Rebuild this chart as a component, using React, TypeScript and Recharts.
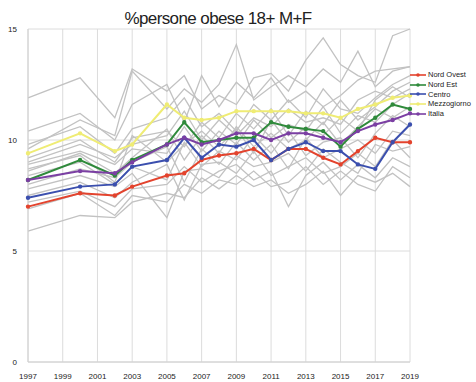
import { CartesianGrid, Legend, Line, LineChart, XAxis, YAxis } from "recharts"

const years = [1997, 2000, 2002, 2003, 2005, 2006, 2007, 2008, 2009, 2010, 2011, 2012, 2013, 2014, 2015, 2016, 2017, 2018, 2019]
const yearTicks = [1997, 1999, 2001, 2003, 2005, 2007, 2009, 2011, 2013, 2015, 2017, 2019]
const valueTicks = [0, 5, 10, 15]

const nordOvest = [7.0, 7.6, 7.5, 7.9, 8.4, 8.5, 9.1, 9.3, 9.4, 9.6, 9.1, 9.6, 9.6, 9.2, 8.9, 9.5, 10.1, 9.9, 9.9]
const nordEst = [8.2, 9.1, 8.4, 9.1, 9.8, 10.8, 9.9, 10.0, 10.1, 10.1, 10.8, 10.6, 10.5, 10.4, 9.7, 10.5, 11.0, 11.6, 11.4]
const centro = [7.4, 7.9, 8.0, 8.8, 9.1, 10.1, 9.2, 9.8, 9.7, 10.0, 9.1, 9.6, 9.9, 9.5, 9.5, 8.9, 8.7, 9.9, 10.7]
const mezzogiorno = [9.4, 10.3, 9.5, 9.8, 11.6, 11.0, 10.9, 11.0, 11.3, 11.3, 11.3, 11.3, 11.2, 11.2, 11.0, 11.4, 11.6, 11.9, 12.0]
const italia = [8.2, 8.6, 8.5, 9.0, 9.8, 10.1, 9.8, 10.0, 10.3, 10.3, 10.0, 10.3, 10.3, 10.1, 9.9, 10.4, 10.7, 10.9, 11.2]

// regioni (linee grigie)
const regioni = [
  [11.9, 12.8, 11.0, 13.2, 12.2, 12.9, 11.4, 12.0, 11.6, 12.8, 13.0, 12.2, 13.6, 14.6, 13.4, 12.9, 12.6, 14.7, 15.0],
  [9.6, 10.9, 10.2, 13.1, 11.4, 12.3, 11.7, 12.5, 14.3, 11.8, 12.4, 12.9, 12.4, 13.2, 12.6, 14.0, 12.4, 13.1, 13.3],
  [10.4, 11.2, 10.0, 11.6, 12.5, 10.8, 12.9, 11.5, 12.6, 11.9, 12.8, 11.7, 12.2, 11.5, 12.0, 12.7, 13.1, 13.2, 13.3],
  [9.8, 10.6, 9.4, 10.5, 11.0, 11.9, 10.6, 11.2, 10.4, 11.6, 10.9, 11.8, 11.0, 12.3, 11.4, 11.2, 11.9, 12.5, 12.9],
  [9.2, 10.0, 9.0, 10.1, 10.4, 9.7, 10.8, 10.1, 11.2, 10.5, 11.4, 10.2, 11.3, 10.7, 11.8, 10.9, 11.5, 12.2, 12.6],
  [8.9, 9.5, 8.9, 9.6, 9.4, 10.6, 9.5, 10.4, 9.8, 10.9, 10.1, 10.7, 10.4, 11.5, 10.3, 11.1, 10.8, 11.6, 12.1],
  [8.6, 9.4, 8.5, 9.2, 10.5, 9.1, 10.2, 9.4, 10.6, 9.7, 10.3, 9.6, 10.0, 10.8, 9.8, 10.6, 11.4, 11.0, 11.5],
  [8.4, 9.0, 8.0, 8.8, 8.2, 9.9, 8.8, 9.5, 9.1, 10.2, 9.4, 10.4, 9.3, 9.9, 10.1, 9.2, 10.3, 11.1, 10.6],
  [8.0, 8.7, 8.3, 9.0, 9.7, 8.1, 9.6, 8.9, 9.9, 9.1, 9.8, 8.7, 10.1, 9.2, 9.6, 10.0, 9.4, 10.4, 10.2],
  [7.8, 8.4, 7.9, 8.5, 6.5, 8.6, 8.7, 8.3, 9.3, 8.8, 9.0, 9.4, 8.6, 9.6, 9.0, 8.5, 9.8, 9.5, 9.7],
  [7.5, 8.1, 7.4, 8.1, 8.9, 7.3, 8.9, 9.0, 8.5, 9.5, 8.4, 8.8, 9.2, 8.5, 8.8, 9.4, 8.8, 10.0, 9.2],
  [7.2, 7.7, 7.0, 7.8, 8.0, 8.8, 8.1, 8.6, 8.9, 8.2, 8.6, 7.0, 8.4, 9.0, 8.2, 8.9, 8.3, 9.2, 8.8],
  [6.9, 7.6, 6.6, 7.5, 7.2, 8.0, 7.6, 8.2, 8.0, 8.6, 7.9, 8.1, 8.8, 8.0, 8.6, 8.0, 7.7, 8.8, 8.3],
  [5.9, 6.6, 6.5, 7.2, 7.6, 7.4, 8.3, 7.8, 8.4, 7.9, 8.2, 7.6, 8.0, 8.6, 7.5, 8.4, 8.1, 8.5, 7.9],
  [8.7, 9.3, 8.1, 10.2, 9.0, 9.8, 10.4, 9.7, 10.5, 9.4, 10.9, 9.9, 10.6, 10.2, 11.0, 10.4, 11.8, 12.4, 11.9],
  [9.0, 9.8, 9.2, 9.8, 10.2, 11.3, 10.0, 10.9, 10.2, 11.0, 10.6, 11.4, 10.8, 11.0, 10.7, 11.8, 12.2, 11.9, 12.3],
]

const series = [
  { key: "nordOvest", name: "Nord Ovest", values: nordOvest, color: "#e3432d" },
  { key: "nordEst", name: "Nord Est", values: nordEst, color: "#2f8a3b" },
  { key: "centro", name: "Centro", values: centro, color: "#3b4fae" },
  { key: "mezzogiorno", name: "Mezzogiorno", values: mezzogiorno, color: "#efec74" },
  { key: "italia", name: "Italia", values: italia, color: "#7b3fa3" },
]

const data = years.map((year, i) => {
  const row: Record<string, number> = { year }
  regioni.forEach((r, j) => {
    row[`r${j}`] = r[i]
  })
  series.forEach((s) => {
    row[s.key] = s.values[i]
  })
  return row
})

const font = "Liberation Sans, Arial, sans-serif"
const tickStyle = { fill: "#222", fontSize: 8, fontFamily: font }

const renderLegend = () => (
  <div style={{ fontFamily: font, fontSize: 7.5, color: "#222" }}>
    {series.map((s) => (
      <div key={s.key} style={{ display: "flex", alignItems: "center", height: 9.7 }}>
        <svg width={16} height={8} style={{ marginRight: 2 }}>
          <line x1={0} y1={4} x2={16} y2={4} stroke={s.color} strokeWidth={1.6} />
          <circle cx={8} cy={4} r={1.8} fill={s.color} />
        </svg>
        <span>{s.name}</span>
      </div>
    ))}
  </div>
)

const App = () => {
  return (
    <div style={{ position: "absolute", left: 0, top: 0, width: 476, height: 382, background: "#fff" }}>
      <div
        style={{
          position: "absolute",
          top: 9,
          left: 0,
          width: 436,
          textAlign: "center",
          fontFamily: font,
          fontSize: 17,
          letterSpacing: -0.6,
          color: "#222",
        }}
      >
        %persone obese 18+ M+F
      </div>
      <LineChart width={476} height={382} data={data} margin={{ top: 29, right: 66, bottom: 0, left: 8 }}>
        <CartesianGrid stroke="#dcdcdc" strokeWidth={1} />
        <XAxis
          dataKey="year"
          type="number"
          domain={[1997, 2019]}
          ticks={yearTicks}
          interval={0}
          tick={tickStyle}
          tickLine={false}
          axisLine={{ stroke: "#d0d0d0" }}
          tickMargin={5}
          height={20}
        />
        <YAxis
          domain={[0, 15]}
          ticks={valueTicks}
          tick={tickStyle}
          tickLine={false}
          axisLine={{ stroke: "#d0d0d0" }}
          width={20}
          tickMargin={5}
        />
        {regioni.map((_, j) => (
          <Line
            key={`r${j}`}
            dataKey={`r${j}`}
            stroke="#c2c2c2"
            strokeWidth={1.3}
            dot={false}
            legendType="none"
            isAnimationActive={false}
          />
        ))}
        {series.map((s) => (
          <Line
            key={s.key}
            dataKey={s.key}
            name={s.name}
            stroke={s.color}
            strokeWidth={2}
            dot={{ r: 1.2, fill: s.color, stroke: s.color }}
            isAnimationActive={false}
          />
        ))}
        <Legend
          layout="horizontal"
          align="center"
          verticalAlign="middle"
          content={renderLegend}
          wrapperStyle={{ position: "absolute", top: 70, left: 410, width: 66, height: 50 }}
        />
      </LineChart>
    </div>
  )
}

export default App
